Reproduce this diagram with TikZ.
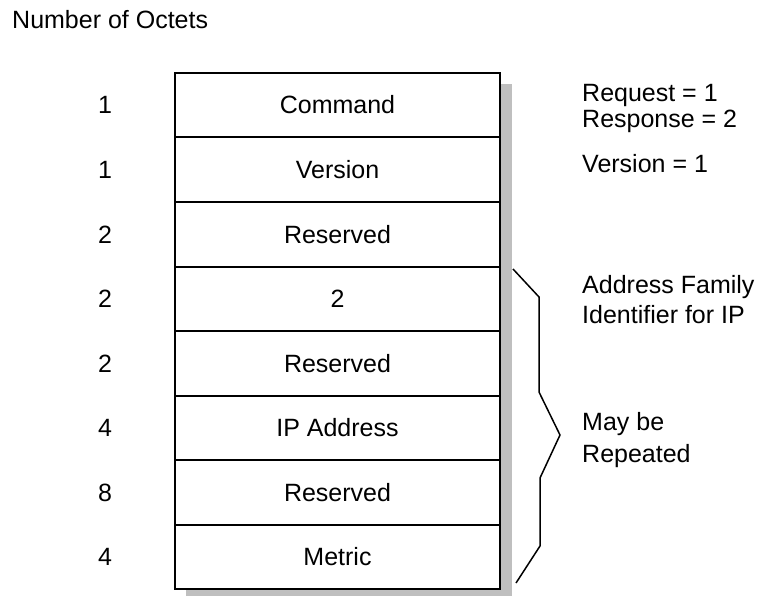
\documentclass[tikz,border=0pt]{standalone}
\usepackage{fontspec}
\setmainfont{Liberation Sans}
\begin{document}
\begin{tikzpicture}[x=1pt,y=-1pt,
  lbl/.style={font=\fontsize{25}{28}\selectfont, inner sep=0pt, anchor=base},
  lblw/.style={lbl, anchor=base west},
  cell/.style={draw=black, line width=2pt, minimum width=325pt, minimum height=64.5pt, inner sep=0pt, fill=white},
  brace/.style={draw=black, line width=1.5pt, line join=miter}]
\useasboundingbox (0,0) rectangle (757,596);
\fill[gray!50] (186,84) rectangle (512,596);
\node[lblw] (title) at (12,29) {Number of Octets};
\foreach \i/\t/\n in {0/Command/1,1/Version/1,2/Reserved/2,3/2/2,4/Reserved/2,5/IP Address/4,6/Reserved/8,7/Metric/4}{
  \node[cell] (r\i) at (337.5,{73+64.5*(\i+0.5)}) {};
  \node[lbl] (t\i) at (337.5,{73+64.5*(\i+0.5)+8.75}) {\t};
  \node[lbl] (n\i) at (105,{73+64.5*(\i+0.5)+8.75}) {\n};
}
\node[lblw] (req) at (582,102) {Request = 1};
\node[lblw] (resp) at (582,128) {Response = 2};
\node[lblw] (ver) at (582,172) {Version = 1};
\node[lblw] (af) at (582,293) {Address Family};
\node[lblw] (id) at (582,323) {Identifier for IP};
\node[lblw] (may) at (582,430) {May be};
\node[lblw] (rep) at (582,462) {Repeated};
\coordinate (b1) at (513,269);
\coordinate (b7) at (516,583);
\draw[brace] (b1) -- (539,297) -- (539,392) -- (560,435) -- (540,478) -- (540,546) -- (b7);
\end{tikzpicture}
\end{document}
